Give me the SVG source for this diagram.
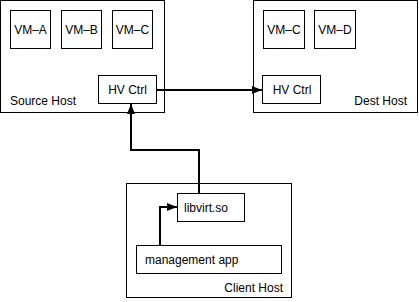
<svg xmlns="http://www.w3.org/2000/svg" width="419" height="302" viewBox="0 0 419 302">
<style>
rect{fill:#fff;stroke:#000;stroke-width:1}
text{font-family:"Liberation Sans",Arial,sans-serif;font-size:12px;fill:#000}
.c{stroke:#000;stroke-width:2;fill:none}
</style>
<defs>
<marker id="ah" viewBox="0 0 10 8" refX="10" refY="4" markerWidth="10" markerHeight="8" markerUnits="userSpaceOnUse" orient="auto">
<path d="M0,0 L10,4 L0,8 Z" fill="#000"/>
</marker>
</defs>
<g id="source-host">
<rect x="0.5" y="0.5" width="164" height="112"/>
<text x="10" y="105">Source Host</text>
</g>
<g id="vm-a"><rect x="10.5" y="10.5" width="40" height="38"/><text x="30.5" y="34" text-anchor="middle">VM–A</text></g>
<g id="vm-b"><rect x="61.5" y="10.5" width="40" height="38"/><text x="81.5" y="34" text-anchor="middle">VM–B</text></g>
<g id="vm-c-src"><rect x="112.5" y="10.5" width="40" height="38"/><text x="132.5" y="34" text-anchor="middle">VM–C</text></g>
<g id="hv-src"><rect x="98.5" y="75.5" width="58" height="28"/><text x="127.5" y="94" text-anchor="middle">HV Ctrl</text></g>
<g id="dest-host">
<rect x="253.5" y="0.5" width="164" height="112"/>
<text x="407" y="105" text-anchor="end">Dest Host</text>
</g>
<g id="vm-c-dst"><rect x="263.5" y="10.5" width="41" height="38"/><text x="284" y="34" text-anchor="middle">VM–C</text></g>
<g id="vm-d"><rect x="314.5" y="10.5" width="41" height="38"/><text x="335" y="34" text-anchor="middle">VM–D</text></g>
<g id="hv-dst"><rect x="262.5" y="75.5" width="58" height="28"/><text x="292" y="94" text-anchor="middle">HV Ctrl</text></g>
<g id="client-host">
<rect x="126.5" y="183.5" width="165" height="114"/>
<text x="283" y="292" text-anchor="end">Client Host</text>
</g>
<g id="libvirt"><rect x="177.5" y="193.5" width="67" height="28"/><text x="184" y="212">libvirt.so</text></g>
<g id="mgmt"><rect x="136.5" y="245.5" width="145" height="28"/><text x="145" y="264">management app</text></g>
<g id="connectors">
<path class="c" d="M157,90 H262" marker-end="url(#ah)"/>
<path class="c" d="M199,193 V150 H131 V104" marker-end="url(#ah)"/>
<path class="c" d="M160,245 V207 H177" marker-end="url(#ah)"/>
</g>
</svg>
